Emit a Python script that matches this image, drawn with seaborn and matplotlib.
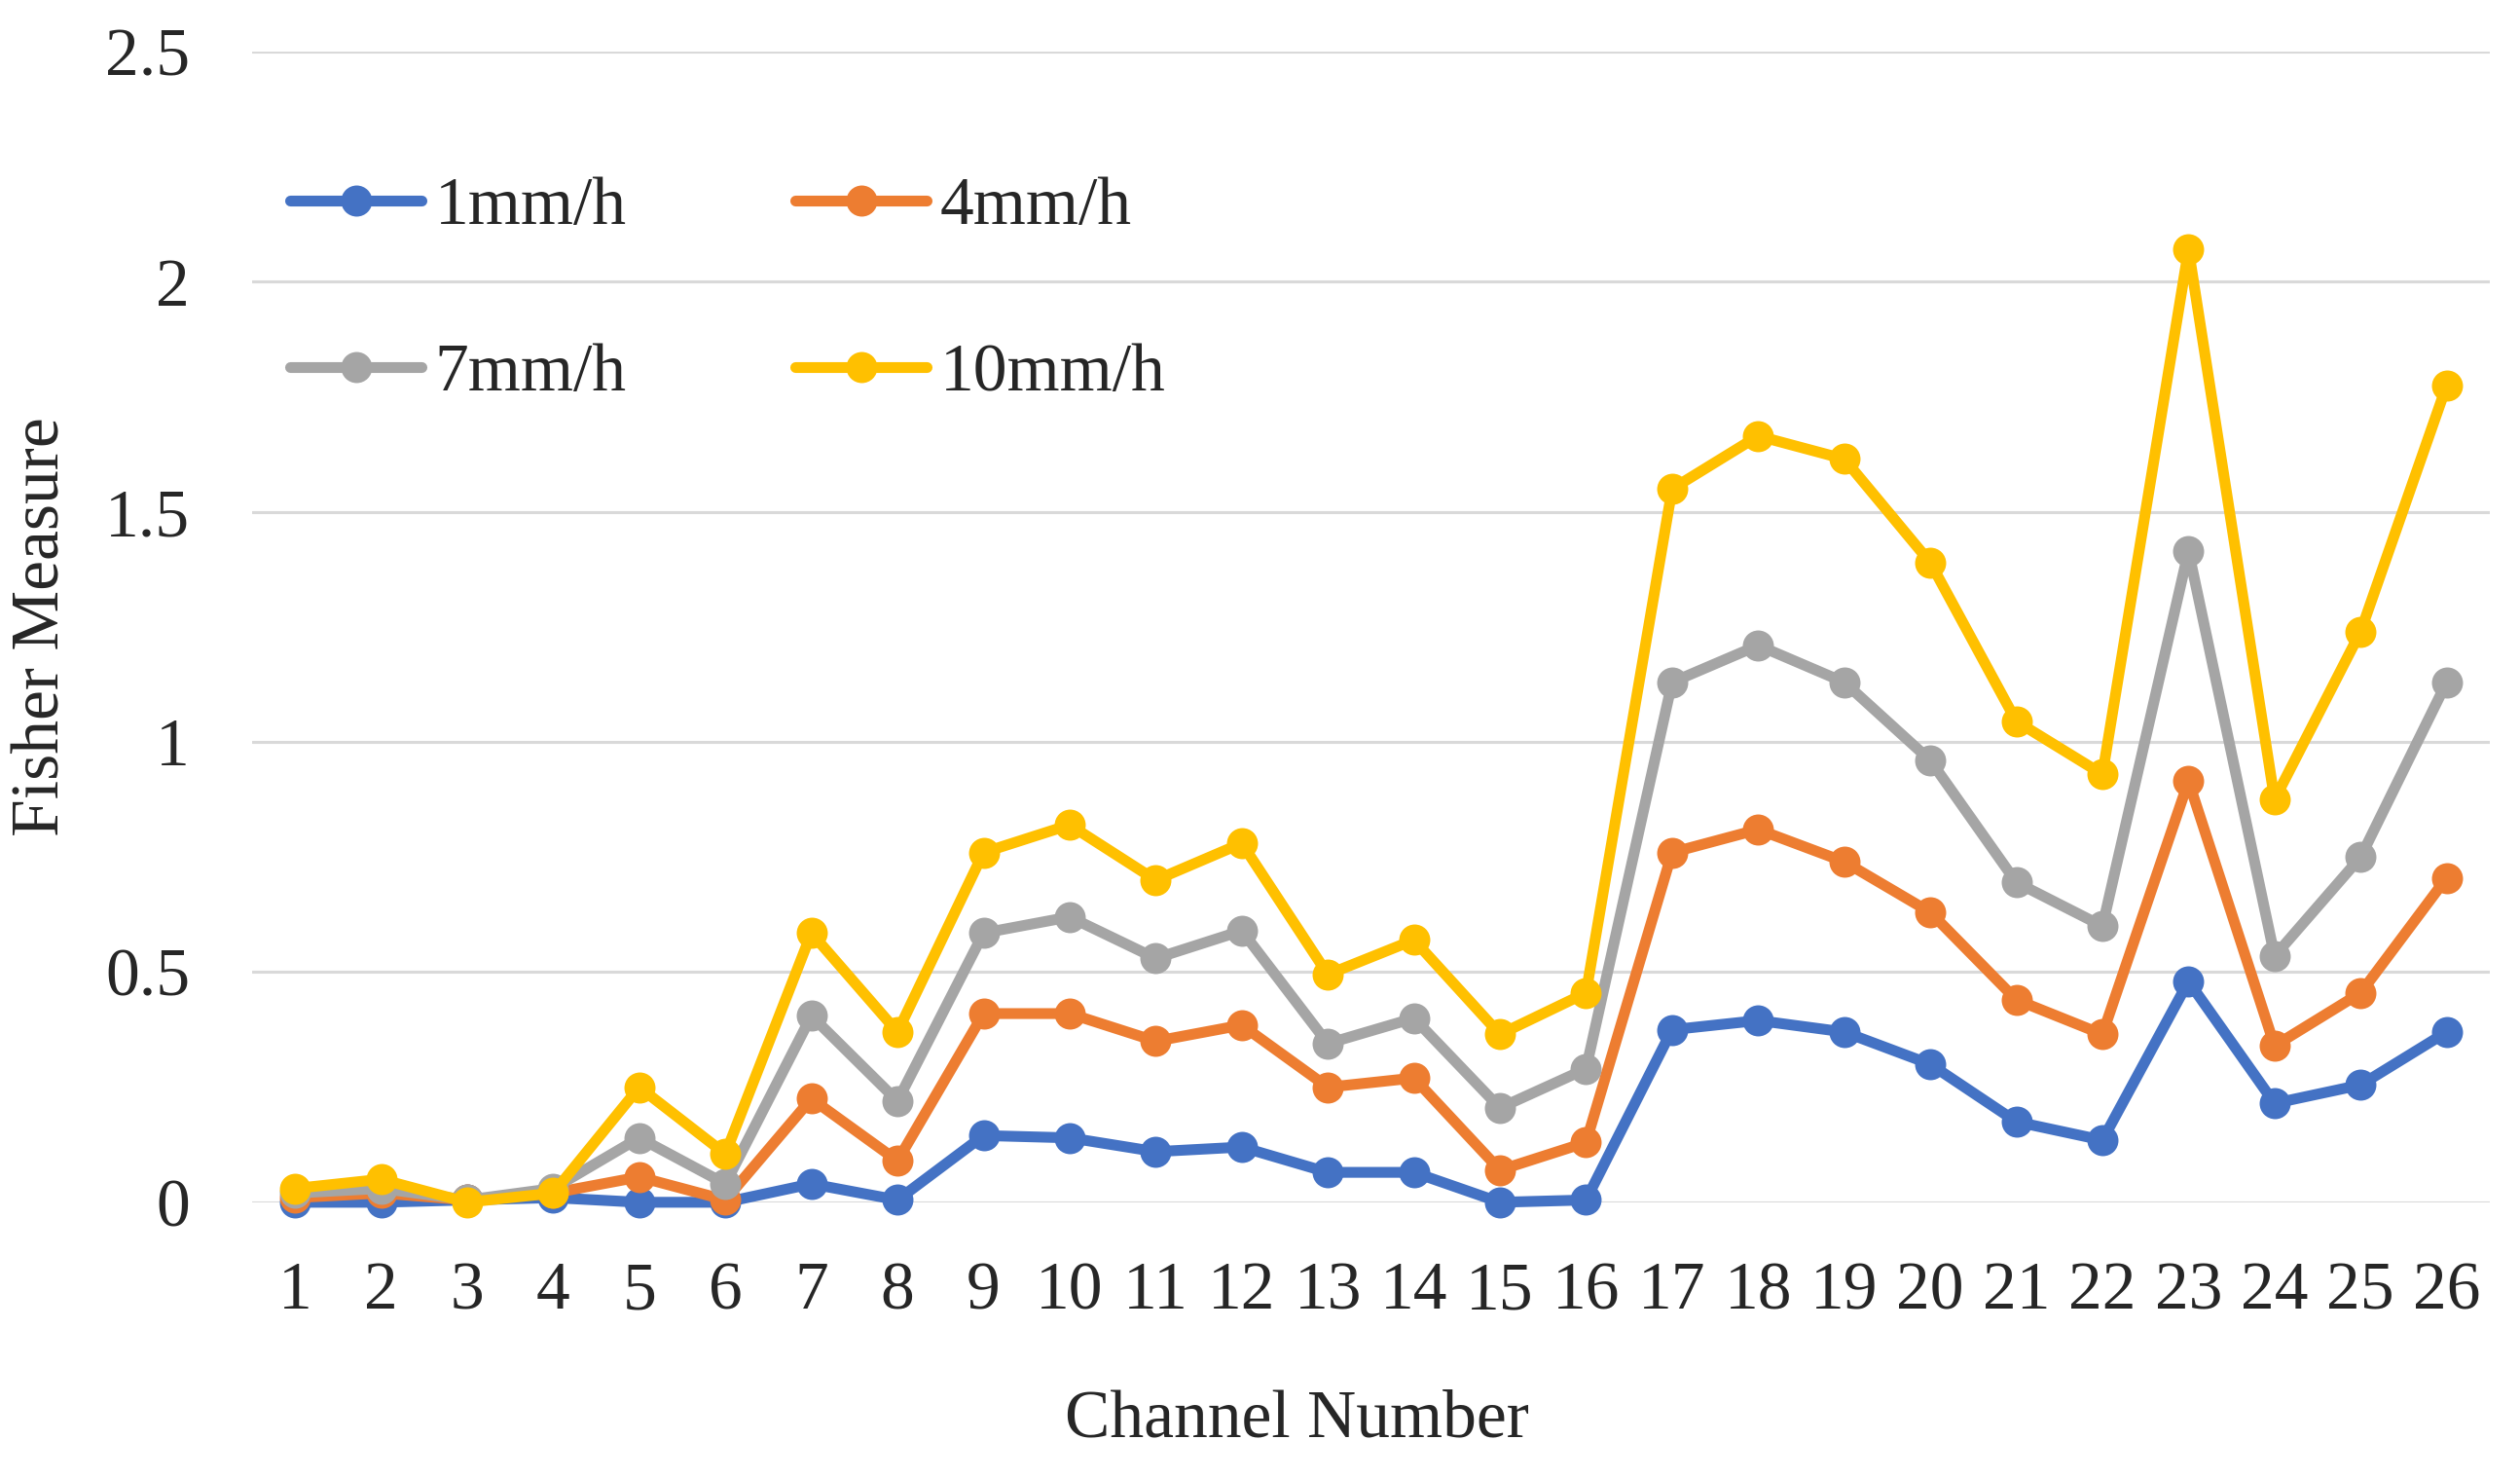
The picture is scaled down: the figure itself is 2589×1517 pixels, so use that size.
import pandas as pd
import numpy as np
import matplotlib
matplotlib.use('Agg')
import matplotlib.pyplot as plt
import seaborn as sns

# values
channels = list(range(1, 27))
rates = ['1mm/h', '4mm/h', '7mm/h', '10mm/h']
fm_1 = [0.0, 0.0, 0.005, 0.01, 0.0, 0.0, 0.04, 0.005, 0.145, 0.14, 0.11, 0.12, 0.065,
        0.065, 0.0, 0.005, 0.375, 0.395, 0.37, 0.30, 0.175, 0.135, 0.48, 0.215, 0.255, 0.37]
fm_4 = [0.01, 0.02, 0.005, 0.02, 0.055, 0.005, 0.225, 0.09, 0.41, 0.41, 0.35, 0.385, 0.25,
        0.27, 0.07, 0.13, 0.76, 0.81, 0.74, 0.63, 0.44, 0.365, 0.915, 0.34, 0.455, 0.705]
fm_7 = [0.02, 0.03, 0.005, 0.03, 0.14, 0.04, 0.405, 0.22, 0.585, 0.62, 0.53, 0.59, 0.345,
        0.40, 0.205, 0.29, 1.13, 1.21, 1.13, 0.96, 0.695, 0.60, 1.415, 0.535, 0.75, 1.13]
fm_10 = [0.03, 0.05, 0.0, 0.02, 0.25, 0.105, 0.585, 0.37, 0.76, 0.82, 0.70, 0.78, 0.495,
         0.57, 0.365, 0.455, 1.55, 1.665, 1.615, 1.39, 1.045, 0.93, 2.07, 0.875, 1.24, 1.775]
colors = ['#4472C4', '#ED7D31', '#A5A5A5', '#FFC000']

rows = []
for rate, vals in zip(rates, [fm_1, fm_4, fm_7, fm_10]):
    for ch, v in zip(channels, vals):
        rows.append({'channel': ch, 'value': v, 'rate': rate})
df = pd.DataFrame(rows)

sns.set_theme(style='white')
plt.rcParams['font.family'] = ['Liberation Serif', 'DejaVu Serif']

fig = plt.figure(figsize=(25.89, 15.17), dpi=100)
ax = fig.add_axes([0.100, 0.186, 0.888, 0.779])

sns.lineplot(data=df, x='channel', y='value', hue='rate', hue_order=rates,
             palette=colors, marker='o', markersize=23, markeredgewidth=0,
             linewidth=8, errorbar=None, ax=ax)
for ln in ax.lines:
    ln.set_clip_on(False)

ax.set_xlim(0.5, 26.5)
ax.set_ylim(0, 2.5)
ax.set_xticks(channels)
ax.set_yticks([0, 0.5, 1, 1.5, 2, 2.5])
ax.set_yticklabels(['0', '0.5', '1', '1.5', '2', '2.5'])
ax.yaxis.grid(True, color='#d9d9d9', linewidth=2.2)
ax.set_axisbelow(True)
for s in ax.spines.values():
    s.set_visible(False)
ax.tick_params(axis='both', labelsize=50, length=0)
ax.tick_params(axis='y', pad=46)
ax.tick_params(axis='x', pad=44)

ax.set_xlabel('Channel Number', fontsize=50)
ax.xaxis.set_label_coords(0.467, -0.163)
ax.set_ylabel('Fisher Measure', fontsize=50, labelpad=23)

# legend filled row by row, like the original
handles, labels = ax.get_legend_handles_labels()
order = [0, 2, 1, 3]
ax.legend([handles[i] for i in order], [labels[i] for i in order],
          ncol=2, frameon=False, fontsize=50, loc='upper left',
          bbox_to_anchor=(0.005, 0.915), handlelength=1.94, handletextpad=0.2,
          columnspacing=2.5, labelspacing=1.55, borderaxespad=0)

fig.savefig('out.png', dpi=100)
